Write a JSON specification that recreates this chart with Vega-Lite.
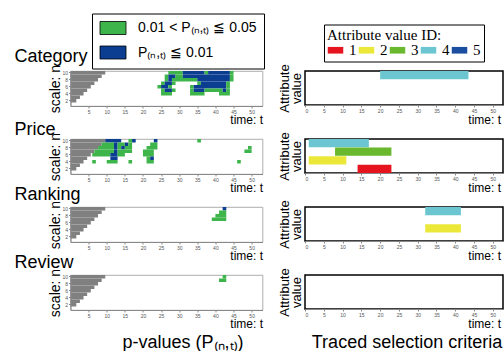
{
  "$schema": "https://vega.github.io/schema/vega-lite/v6.json",
  "padding": {"left": 13.5, "top": 12, "right": 2, "bottom": 2},
  "autosize": {"type": "pad"},
  "datasets": {
    "grey": [
      {"n": 2, "t0": 0, "t1": 1.6}, {"n": 3, "t0": 0, "t1": 2.6}, {"n": 4, "t0": 0, "t1": 3.6},
      {"n": 5, "t0": 0, "t1": 4.6}, {"n": 6, "t0": 0, "t1": 5.6}, {"n": 7, "t0": 0, "t1": 6.6},
      {"n": 8, "t0": 0, "t1": 7.6}, {"n": 9, "t0": 0, "t1": 8.6}, {"n": 10, "t0": 0, "t1": 9.6}
    ],
    "sig": [
      {"panel": "Category", "n": 10, "t0": 27, "t1": 31, "level": "g"},
      {"panel": "Category", "n": 10, "t0": 31, "t1": 37, "level": "b"},
      {"panel": "Category", "n": 10, "t0": 37, "t1": 38, "level": "g"},
      {"panel": "Category", "n": 10, "t0": 38, "t1": 44, "level": "b"},
      {"panel": "Category", "n": 10, "t0": 44, "t1": 45, "level": "g"},
      {"panel": "Category", "n": 9, "t0": 26, "t1": 27, "level": "g"},
      {"panel": "Category", "n": 9, "t0": 27, "t1": 29, "level": "b"},
      {"panel": "Category", "n": 9, "t0": 29, "t1": 31, "level": "g"},
      {"panel": "Category", "n": 9, "t0": 31, "t1": 44, "level": "b"},
      {"panel": "Category", "n": 9, "t0": 44, "t1": 45, "level": "g"},
      {"panel": "Category", "n": 8, "t0": 26, "t1": 27, "level": "g"},
      {"panel": "Category", "n": 8, "t0": 27, "t1": 28, "level": "b"},
      {"panel": "Category", "n": 8, "t0": 28, "t1": 35, "level": "g"},
      {"panel": "Category", "n": 8, "t0": 35, "t1": 44, "level": "b"},
      {"panel": "Category", "n": 8, "t0": 44, "t1": 45, "level": "g"},
      {"panel": "Category", "n": 7, "t0": 25, "t1": 26, "level": "g"},
      {"panel": "Category", "n": 7, "t0": 26, "t1": 28, "level": "b"},
      {"panel": "Category", "n": 7, "t0": 28, "t1": 29, "level": "g"},
      {"panel": "Category", "n": 7, "t0": 35, "t1": 36, "level": "g"},
      {"panel": "Category", "n": 7, "t0": 36, "t1": 43, "level": "b"},
      {"panel": "Category", "n": 7, "t0": 43, "t1": 44, "level": "g"},
      {"panel": "Category", "n": 6, "t0": 24, "t1": 25, "level": "g"},
      {"panel": "Category", "n": 6, "t0": 25, "t1": 27, "level": "b"},
      {"panel": "Category", "n": 6, "t0": 27, "t1": 28, "level": "g"},
      {"panel": "Category", "n": 6, "t0": 33, "t1": 34, "level": "g"},
      {"panel": "Category", "n": 6, "t0": 34, "t1": 43, "level": "b"},
      {"panel": "Category", "n": 6, "t0": 43, "t1": 44, "level": "g"},
      {"panel": "Category", "n": 5, "t0": 25, "t1": 26, "level": "g"},
      {"panel": "Category", "n": 5, "t0": 26, "t1": 28, "level": "b"},
      {"panel": "Category", "n": 5, "t0": 28, "t1": 29, "level": "g"},
      {"panel": "Category", "n": 5, "t0": 33, "t1": 34, "level": "g"},
      {"panel": "Category", "n": 5, "t0": 34, "t1": 37, "level": "b"},
      {"panel": "Category", "n": 5, "t0": 37, "t1": 42, "level": "g"},
      {"panel": "Category", "n": 5, "t0": 42, "t1": 43, "level": "b"},
      {"panel": "Category", "n": 5, "t0": 43, "t1": 44, "level": "g"},
      {"panel": "Category", "n": 4, "t0": 25, "t1": 28, "level": "g"},
      {"panel": "Category", "n": 4, "t0": 33, "t1": 37, "level": "g"},
      {"panel": "Category", "n": 4, "t0": 41, "t1": 44, "level": "g"},
      {"panel": "Price", "n": 10, "t0": 9.6, "t1": 14, "level": "b"},
      {"panel": "Price", "n": 10, "t0": 16, "t1": 17, "level": "g"},
      {"panel": "Price", "n": 10, "t0": 17, "t1": 18, "level": "b"},
      {"panel": "Price", "n": 10, "t0": 23, "t1": 24, "level": "b"},
      {"panel": "Price", "n": 10, "t0": 35, "t1": 36, "level": "g"},
      {"panel": "Price", "n": 9, "t0": 8.6, "t1": 12, "level": "g"},
      {"panel": "Price", "n": 9, "t0": 12, "t1": 13, "level": "b"},
      {"panel": "Price", "n": 9, "t0": 13, "t1": 15, "level": "g"},
      {"panel": "Price", "n": 9, "t0": 15, "t1": 16, "level": "b"},
      {"panel": "Price", "n": 9, "t0": 16, "t1": 17, "level": "g"},
      {"panel": "Price", "n": 9, "t0": 22, "t1": 24, "level": "g"},
      {"panel": "Price", "n": 8, "t0": 7.6, "t1": 12, "level": "g"},
      {"panel": "Price", "n": 8, "t0": 12, "t1": 13, "level": "b"},
      {"panel": "Price", "n": 8, "t0": 13, "t1": 14, "level": "g"},
      {"panel": "Price", "n": 8, "t0": 14, "t1": 15, "level": "b"},
      {"panel": "Price", "n": 8, "t0": 15, "t1": 17, "level": "g"},
      {"panel": "Price", "n": 8, "t0": 21, "t1": 24, "level": "g"},
      {"panel": "Price", "n": 8, "t0": 49, "t1": 50, "level": "g"},
      {"panel": "Price", "n": 7, "t0": 6.6, "t1": 12, "level": "g"},
      {"panel": "Price", "n": 7, "t0": 12, "t1": 13, "level": "b"},
      {"panel": "Price", "n": 7, "t0": 13, "t1": 17, "level": "g"},
      {"panel": "Price", "n": 7, "t0": 20, "t1": 23, "level": "g"},
      {"panel": "Price", "n": 7, "t0": 48, "t1": 50, "level": "g"},
      {"panel": "Price", "n": 6, "t0": 6, "t1": 11, "level": "g"},
      {"panel": "Price", "n": 6, "t0": 11, "t1": 13, "level": "b"},
      {"panel": "Price", "n": 6, "t0": 13, "t1": 15, "level": "g"},
      {"panel": "Price", "n": 6, "t0": 20, "t1": 23, "level": "g"},
      {"panel": "Price", "n": 5, "t0": 11, "t1": 13, "level": "b"},
      {"panel": "Price", "n": 5, "t0": 21, "t1": 22, "level": "g"},
      {"panel": "Price", "n": 5, "t0": 22, "t1": 23, "level": "b"},
      {"panel": "Price", "n": 4, "t0": 6, "t1": 7, "level": "g"},
      {"panel": "Price", "n": 4, "t0": 10, "t1": 13, "level": "g"},
      {"panel": "Price", "n": 4, "t0": 16, "t1": 17, "level": "g"},
      {"panel": "Price", "n": 4, "t0": 21, "t1": 23, "level": "g"},
      {"panel": "Price", "n": 4, "t0": 46, "t1": 47, "level": "g"},
      {"panel": "Ranking", "n": 10, "t0": 42, "t1": 43, "level": "b"},
      {"panel": "Ranking", "n": 9, "t0": 41, "t1": 43, "level": "g"},
      {"panel": "Ranking", "n": 8, "t0": 40, "t1": 43, "level": "g"},
      {"panel": "Ranking", "n": 7, "t0": 39, "t1": 43, "level": "g"},
      {"panel": "Review", "n": 10, "t0": 42, "t1": 43, "level": "g"},
      {"panel": "Review", "n": 9, "t0": 41, "t1": 43, "level": "g"}
    ],
    "crit": [
      {"panel": "Category", "row": 1, "t0": 20, "t1": 43.5, "id": "4"},
      {"panel": "Price", "row": 1, "t0": 1, "t1": 17, "id": "4"},
      {"panel": "Price", "row": 2, "t0": 8, "t1": 23, "id": "3"},
      {"panel": "Price", "row": 3, "t0": 1, "t1": 11, "id": "2"},
      {"panel": "Price", "row": 4, "t0": 14, "t1": 23, "id": "1"},
      {"panel": "Ranking", "row": 1, "t0": 32, "t1": 41.5, "id": "4"},
      {"panel": "Ranking", "row": 3, "t0": 32, "t1": 41.5, "id": "2"}
    ]
  },
  "columns": 2,
  "spacing": {"row": 33, "column": 42.5},
  "bounds": "flush",
  "align": "each",
  "resolve": {
    "scale": {"x": "independent", "y": "independent", "color": "independent"},
    "axis": {"x": "independent", "y": "independent"},
    "legend": {"color": "independent"}
  },
  "concat": [
    {
      "width": 192, "height": 35,
      "view": {"stroke": "#999", "strokeWidth": 0.8},
      "layer": [
        {
          "data": {"name": "grey"},
          "mark": {"type": "rect", "color": "#808080"},
          "encoding": {
            "x": {"field": "t0", "type": "quantitative", "scale": {"domain": [0, 53], "nice": false, "zero": false},
              "axis": {"orient": "top", "domain": false, "ticks": false, "labels": false, "title": "Category", "titleX": -56.5, "titleY": -9.5, "titleAlign": "left", "titleBaseline": "alphabetic", "titleFontSize": 18}},
            "x2": {"field": "t1"},
            "y": {"field": "n", "type": "ordinal", "scale": {"domain": [10, 9, 8, 7, 6, 5, 4, 3, 2, 1], "paddingInner": 0, "paddingOuter": 0},
              "axis": {"values": [10, 8, 6, 4, 2], "title": "scale: n", "titleX": -10.7, "titleY": 17.5, "titleAngle": -90, "titleAlign": "center", "titleBaseline": "alphabetic", "titleFontSize": 14}}
          }
        },
        {
          "data": {"name": "sig"},
          "transform": [{"filter": "datum.panel === 'Category'"}],
          "mark": {"type": "rect"},
          "encoding": {
            "x": {"field": "t0", "type": "quantitative", "scale": {"domain": [0, 53], "nice": false, "zero": false},
              "axis": {"values": [5, 10, 15, 20, 25, 30, 35, 40, 45, 50], "title": "time: t", "titleX": 192, "titleY": 17.5, "titleAlign": "right", "titleBaseline": "alphabetic", "titleFontSize": 12}},
            "x2": {"field": "t1"},
            "y": {"field": "n", "type": "ordinal", "scale": {"domain": [10, 9, 8, 7, 6, 5, 4, 3, 2, 1], "paddingInner": 0, "paddingOuter": 0},
              "axis": {"values": [10, 8, 6, 4, 2], "title": "scale: n", "titleX": -10.7, "titleY": 17.5, "titleAngle": -90, "titleAlign": "center", "titleBaseline": "alphabetic", "titleFontSize": 14}},
            "color": {"field": "level", "type": "nominal",
              "scale": {"domain": ["g", "b"], "range": ["#3db54a", "#0b3d91"]},
              "legend": {
                "orient": "none", "legendX": 21.5, "legendY": -57.5, "title": null,
                "labelExpr": "datum.value === 'g' ? '0.01 < P₍ₙ,ₜ₎ ≦ 0.05' : 'P₍ₙ,ₜ₎ ≦ 0.01'",
                "strokeColor": "black", "fillColor": "white", "padding": 7.5,
                "labelFontSize": 14, "labelColor": "black", "labelOffset": 18, "labelLimit": 300,
                "symbolType": "M-2,-1H2V1H-2Z", "symbolSize": 169, "symbolOffset": 6.5, "rowPadding": 6.5,
                "encode": {"symbols": {"update": {"stroke": {"value": "black"}, "strokeWidth": {"value": 0.8}, "opacity": {"value": 1}}}}
              }}
          }
        }
      ],
      "resolve": {"axis": {"x": "independent"}}
    },
    {
      "width": 198, "height": 34,
      "view": {"stroke": "black", "strokeWidth": 1.5},
      "data": {"name": "crit"},
      "transform": [{"filter": "datum.panel === 'Category'"}],
      "mark": {"type": "rect"},
      "encoding": {
        "x": {"field": "t0", "type": "quantitative", "scale": {"domain": [0, 52.7], "nice": false, "zero": false},
          "axis": {"values": [0, 5, 10, 15, 20, 25, 30, 35, 40, 45, 50], "title": "time: t", "titleX": 195.5, "titleY": 18, "titleAlign": "right", "titleBaseline": "alphabetic", "titleFontSize": 12}},
        "x2": {"field": "t1"},
        "y": {"field": "row", "type": "ordinal", "scale": {"domain": [1, 2, 3, 4], "paddingInner": 0.04, "paddingOuter": 0},
          "axis": {"values": [], "labels": false, "ticks": false, "domain": false, "title": ["Attribute", "value"], "titleX": -17, "titleY": 17, "titleAngle": -90, "titleAlign": "center", "titleBaseline": "alphabetic", "titleFontSize": 13, "titleLineHeight": 12}},
        "color": {"field": "id", "type": "nominal",
          "scale": {"domain": ["1", "2", "3", "4", "5"], "range": ["#e6141e", "#ebe839", "#6ab82e", "#6cc6d2", "#1c4ea0"]},
          "legend": {
            "orient": "none", "legendX": 19, "legendY": -46.5, "direction": "horizontal", "columns": 5,
            "title": "Attribute value ID:", "titleFont": "Liberation Serif", "titleFontSize": 15, "titleFontWeight": "normal", "titleColor": "black", "titlePadding": -1,
            "labelFont": "Liberation Serif", "labelFontSize": 15, "labelColor": "black", "labelOffset": 5,
            "symbolType": "M-1,-0.43H1V0.43H-1Z", "symbolSize": 240, "columnPadding": 1,
            "strokeColor": "black", "fillColor": "white", "padding": 3,
            "encode": {"symbols": {"update": {"opacity": {"value": 1}}}}
          }}
      }
    },
    {
      "width": 192, "height": 35,
      "view": {"stroke": "#999", "strokeWidth": 0.8},
      "layer": [
        {
          "data": {"name": "grey"},
          "mark": {"type": "rect", "color": "#808080"},
          "encoding": {
            "x": {"field": "t0", "type": "quantitative", "scale": {"domain": [0, 53], "nice": false, "zero": false},
              "axis": {"orient": "top", "domain": false, "ticks": false, "labels": false, "title": "Price", "titleX": -56.5, "titleY": -5, "titleAlign": "left", "titleBaseline": "alphabetic", "titleFontSize": 18}},
            "x2": {"field": "t1"},
            "y": {"field": "n", "type": "ordinal", "scale": {"domain": [10, 9, 8, 7, 6, 5, 4, 3, 2, 1], "paddingInner": 0, "paddingOuter": 0},
              "axis": {"values": [10, 8, 6, 4, 2], "title": "scale: n", "titleX": -10.7, "titleY": 17.5, "titleAngle": -90, "titleAlign": "center", "titleBaseline": "alphabetic", "titleFontSize": 14}}
          }
        },
        {
          "data": {"name": "sig"},
          "transform": [{"filter": "datum.panel === 'Price'"}],
          "mark": {"type": "rect"},
          "encoding": {
            "x": {"field": "t0", "type": "quantitative", "scale": {"domain": [0, 53], "nice": false, "zero": false},
              "axis": {"values": [5, 10, 15, 20, 25, 30, 35, 40, 45, 50], "title": "time: t", "titleX": 192, "titleY": 17.5, "titleAlign": "right", "titleBaseline": "alphabetic", "titleFontSize": 12}},
            "x2": {"field": "t1"},
            "y": {"field": "n", "type": "ordinal", "scale": {"domain": [10, 9, 8, 7, 6, 5, 4, 3, 2, 1], "paddingInner": 0, "paddingOuter": 0},
              "axis": {"values": [10, 8, 6, 4, 2], "title": "scale: n", "titleX": -10.7, "titleY": 17.5, "titleAngle": -90, "titleAlign": "center", "titleBaseline": "alphabetic", "titleFontSize": 14}},
            "color": {"field": "level", "type": "nominal", "scale": {"domain": ["g", "b"], "range": ["#3db54a", "#0b3d91"]}, "legend": null}
          }
        }
      ],
      "resolve": {"axis": {"x": "independent"}}
    },
    {
      "width": 198, "height": 34,
      "view": {"stroke": "black", "strokeWidth": 1.5},
      "data": {"name": "crit"},
      "transform": [{"filter": "datum.panel === 'Price'"}],
      "mark": {"type": "rect"},
      "encoding": {
        "x": {"field": "t0", "type": "quantitative", "scale": {"domain": [0, 52.7], "nice": false, "zero": false},
          "axis": {"values": [0, 5, 10, 15, 20, 25, 30, 35, 40, 45, 50], "title": "time: t", "titleX": 195.5, "titleY": 18, "titleAlign": "right", "titleBaseline": "alphabetic", "titleFontSize": 12}},
        "x2": {"field": "t1"},
        "y": {"field": "row", "type": "ordinal", "scale": {"domain": [1, 2, 3, 4], "paddingInner": 0.04, "paddingOuter": 0},
          "axis": {"values": [], "labels": false, "ticks": false, "domain": false, "title": ["Attribute", "value"], "titleX": -17, "titleY": 17, "titleAngle": -90, "titleAlign": "center", "titleBaseline": "alphabetic", "titleFontSize": 13, "titleLineHeight": 12}},
        "color": {"field": "id", "type": "nominal",
          "scale": {"domain": ["1", "2", "3", "4", "5"], "range": ["#e6141e", "#ebe839", "#6ab82e", "#6cc6d2", "#1c4ea0"]}, "legend": null}
      }
    },
    {
      "width": 192, "height": 35,
      "view": {"stroke": "#999", "strokeWidth": 0.8},
      "layer": [
        {
          "data": {"name": "grey"},
          "mark": {"type": "rect", "color": "#808080"},
          "encoding": {
            "x": {"field": "t0", "type": "quantitative", "scale": {"domain": [0, 53], "nice": false, "zero": false},
              "axis": {"orient": "top", "domain": false, "ticks": false, "labels": false, "title": "Ranking", "titleX": -56.5, "titleY": -7.5, "titleAlign": "left", "titleBaseline": "alphabetic", "titleFontSize": 18}},
            "x2": {"field": "t1"},
            "y": {"field": "n", "type": "ordinal", "scale": {"domain": [10, 9, 8, 7, 6, 5, 4, 3, 2, 1], "paddingInner": 0, "paddingOuter": 0},
              "axis": {"values": [10, 8, 6, 4, 2], "title": "scale: n", "titleX": -10.7, "titleY": 17.5, "titleAngle": -90, "titleAlign": "center", "titleBaseline": "alphabetic", "titleFontSize": 14}}
          }
        },
        {
          "data": {"name": "sig"},
          "transform": [{"filter": "datum.panel === 'Ranking'"}],
          "mark": {"type": "rect"},
          "encoding": {
            "x": {"field": "t0", "type": "quantitative", "scale": {"domain": [0, 53], "nice": false, "zero": false},
              "axis": {"values": [5, 10, 15, 20, 25, 30, 35, 40, 45, 50], "title": "time: t", "titleX": 192, "titleY": 17.5, "titleAlign": "right", "titleBaseline": "alphabetic", "titleFontSize": 12}},
            "x2": {"field": "t1"},
            "y": {"field": "n", "type": "ordinal", "scale": {"domain": [10, 9, 8, 7, 6, 5, 4, 3, 2, 1], "paddingInner": 0, "paddingOuter": 0},
              "axis": {"values": [10, 8, 6, 4, 2], "title": "scale: n", "titleX": -10.7, "titleY": 17.5, "titleAngle": -90, "titleAlign": "center", "titleBaseline": "alphabetic", "titleFontSize": 14}},
            "color": {"field": "level", "type": "nominal", "scale": {"domain": ["g", "b"], "range": ["#3db54a", "#0b3d91"]}, "legend": null}
          }
        }
      ],
      "resolve": {"axis": {"x": "independent"}}
    },
    {
      "width": 198, "height": 34,
      "view": {"stroke": "black", "strokeWidth": 1.5},
      "data": {"name": "crit"},
      "transform": [{"filter": "datum.panel === 'Ranking'"}],
      "mark": {"type": "rect"},
      "encoding": {
        "x": {"field": "t0", "type": "quantitative", "scale": {"domain": [0, 52.7], "nice": false, "zero": false},
          "axis": {"values": [0, 5, 10, 15, 20, 25, 30, 35, 40, 45, 50], "title": "time: t", "titleX": 195.5, "titleY": 18, "titleAlign": "right", "titleBaseline": "alphabetic", "titleFontSize": 12}},
        "x2": {"field": "t1"},
        "y": {"field": "row", "type": "ordinal", "scale": {"domain": [1, 2, 3, 4], "paddingInner": 0.04, "paddingOuter": 0},
          "axis": {"values": [], "labels": false, "ticks": false, "domain": false, "title": ["Attribute", "value"], "titleX": -17, "titleY": 17, "titleAngle": -90, "titleAlign": "center", "titleBaseline": "alphabetic", "titleFontSize": 13, "titleLineHeight": 12}},
        "color": {"field": "id", "type": "nominal",
          "scale": {"domain": ["1", "2", "3", "4", "5"], "range": ["#e6141e", "#ebe839", "#6ab82e", "#6cc6d2", "#1c4ea0"]}, "legend": null}
      }
    },
    {
      "width": 192, "height": 35,
      "view": {"stroke": "#999", "strokeWidth": 0.8},
      "layer": [
        {
          "data": {"name": "grey"},
          "mark": {"type": "rect", "color": "#808080"},
          "encoding": {
            "x": {"field": "t0", "type": "quantitative", "scale": {"domain": [0, 53], "nice": false, "zero": false},
              "axis": {"orient": "top", "domain": false, "ticks": false, "labels": false, "title": "Review", "titleX": -56.5, "titleY": -7.5, "titleAlign": "left", "titleBaseline": "alphabetic", "titleFontSize": 18}},
            "x2": {"field": "t1"},
            "y": {"field": "n", "type": "ordinal", "scale": {"domain": [10, 9, 8, 7, 6, 5, 4, 3, 2, 1], "paddingInner": 0, "paddingOuter": 0},
              "axis": {"values": [10, 8, 6, 4, 2], "title": "scale: n", "titleX": -10.7, "titleY": 17.5, "titleAngle": -90, "titleAlign": "center", "titleBaseline": "alphabetic", "titleFontSize": 14}}
          }
        },
        {
          "data": {"name": "sig"},
          "transform": [{"filter": "datum.panel === 'Review'"}],
          "mark": {"type": "rect"},
          "encoding": {
            "x": {"field": "t0", "type": "quantitative", "scale": {"domain": [0, 53], "nice": false, "zero": false},
              "axis": {"values": [5, 10, 15, 20, 25, 30, 35, 40, 45, 50], "title": "time: t", "titleX": 192, "titleY": 17.5, "titleAlign": "right", "titleBaseline": "alphabetic", "titleFontSize": 12}},
            "x2": {"field": "t1"},
            "y": {"field": "n", "type": "ordinal", "scale": {"domain": [10, 9, 8, 7, 6, 5, 4, 3, 2, 1], "paddingInner": 0, "paddingOuter": 0},
              "axis": {"values": [10, 8, 6, 4, 2], "title": "scale: n", "titleX": -10.7, "titleY": 17.5, "titleAngle": -90, "titleAlign": "center", "titleBaseline": "alphabetic", "titleFontSize": 14}},
            "color": {"field": "level", "type": "nominal", "scale": {"domain": ["g", "b"], "range": ["#3db54a", "#0b3d91"]}, "legend": null}
          }
        },
        {
          "data": {"name": "grey"},
          "mark": {"type": "rect", "opacity": 0},
          "encoding": {
            "x": {"field": "t0", "type": "quantitative", "scale": {"domain": [0, 53], "nice": false, "zero": false},
              "axis": {"orient": "bottom", "domain": false, "ticks": false, "labels": false, "title": "p-values (P₍ₙ,ₜ₎)", "titleX": 112, "titleY": 37.5, "titleAlign": "center", "titleBaseline": "alphabetic", "titleFontSize": 18}},
            "x2": {"field": "t1"}
          }
        }
      ],
      "resolve": {"axis": {"x": "independent"}}
    },
    {
      "width": 198, "height": 34,
      "view": {"stroke": "black", "strokeWidth": 1.5},
      "layer": [
        {
          "data": {"name": "crit"},
          "transform": [{"filter": "datum.panel === 'Review'"}],
          "mark": {"type": "rect"},
          "encoding": {
            "x": {"field": "t0", "type": "quantitative", "scale": {"domain": [0, 52.7], "nice": false, "zero": false},
              "axis": {"values": [0, 5, 10, 15, 20, 25, 30, 35, 40, 45, 50], "title": "time: t", "titleX": 195.5, "titleY": 18, "titleAlign": "right", "titleBaseline": "alphabetic", "titleFontSize": 12}},
            "x2": {"field": "t1"},
            "y": {"field": "row", "type": "ordinal", "scale": {"domain": [1, 2, 3, 4], "paddingInner": 0.04, "paddingOuter": 0},
              "axis": {"values": [], "labels": false, "ticks": false, "domain": false, "title": ["Attribute", "value"], "titleX": -17, "titleY": 17, "titleAngle": -90, "titleAlign": "center", "titleBaseline": "alphabetic", "titleFontSize": 13, "titleLineHeight": 12}},
            "color": {"field": "id", "type": "nominal",
              "scale": {"domain": ["1", "2", "3", "4", "5"], "range": ["#e6141e", "#ebe839", "#6ab82e", "#6cc6d2", "#1c4ea0"]}, "legend": null}
          }
        },
        {
          "data": {"name": "grey"},
          "mark": {"type": "rect", "opacity": 0},
          "encoding": {
            "x": {"field": "t0", "type": "quantitative", "scale": {"domain": [0, 52.7], "nice": false, "zero": false},
              "axis": {"orient": "bottom", "domain": false, "ticks": false, "labels": false, "title": "Traced selection criteria", "titleX": 101.5, "titleY": 38, "titleAlign": "center", "titleBaseline": "alphabetic", "titleFontSize": 18}},
            "x2": {"field": "t1"}
          }
        }
      ],
      "resolve": {"axis": {"x": "independent"}}
    }
  ],
  "config": {
    "font": "Liberation Sans",
    "view": {"stroke": null},
    "axis": {
      "grid": false, "labelFont": "Liberation Sans", "labelFontSize": 5, "labelColor": "#555",
      "tickColor": "#888", "tickSize": 2, "labelPadding": 1, "domainColor": "#888",
      "titleFont": "Liberation Sans", "titleFontWeight": "normal", "titleColor": "black", "labelAngle": 0
    },
    "legend": {"labelFont": "Liberation Sans"}
  }
}
